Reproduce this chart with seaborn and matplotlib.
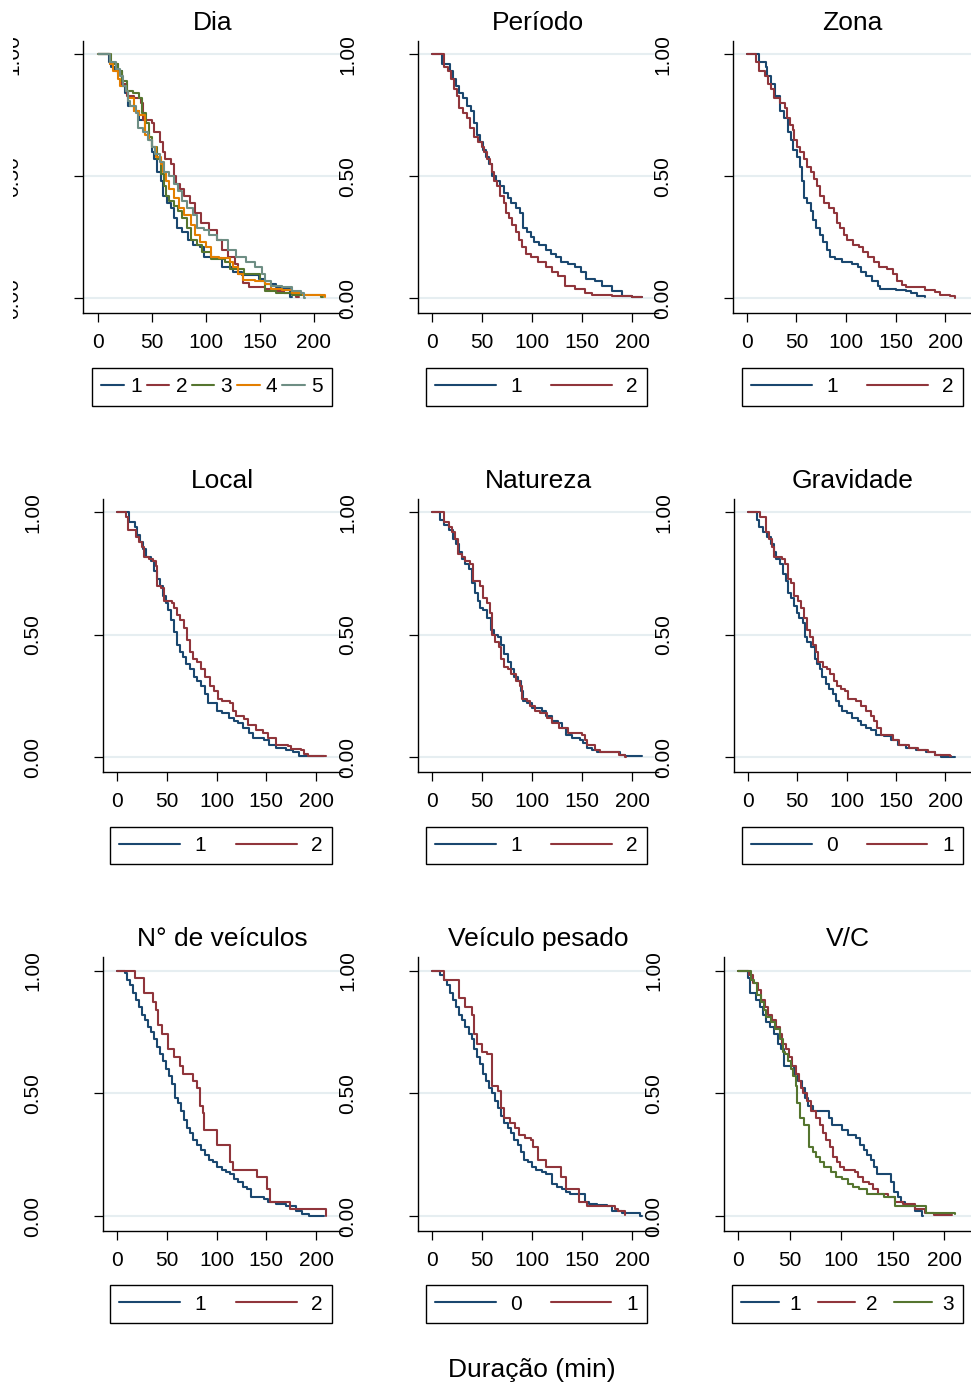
import pandas as pd
import seaborn as sns
import matplotlib.pyplot as plt
from matplotlib.lines import Line2D
from matplotlib.patches import Rectangle

# Kaplan-Meier estimates: (minutes, survival) after each step
dia1 = [(0, 1), (10, .97), (12, .95), (16, .93), (22, .87), (25, .84), (28, .79), (33, .77), (38, .73),
        (43, .68), (47, .65), (50, .60), (52, .57), (55, .52), (58, .48), (60, .42), (64, .39), (68, .37),
        (70, .33), (73, .29), (78, .27), (83, .24), (88, .22), (94, .21), (98, .17), (108, .165), (115, .13),
        (125, .11), (133, .095), (149, .08), (155, .06), (165, .045), (170, .04), (178, .005), (180, .005)]
dia2 = [(0, 1), (11, .96), (18, .92), (22, .88), (27, .83), (33, .82), (40, .80), (42, .73), (50, .72),
        (52, .68), (57, .64), (60, .60), (62, .57), (68, .55), (70, .50), (72, .47), (76, .45), (80, .42),
        (85, .39), (90, .35), (95, .31), (103, .28), (110, .24), (115, .20), (120, .17), (127, .14), (130, .10),
        (134, .065), (140, .045), (155, .04), (165, .03), (172, .02), (183, .005), (186, .005)]
dia3 = [(0, 1), (12, .96), (18, .93), (22, .89), (27, .85), (32, .84), (38, .82), (41, .76), (44, .72),
        (47, .66), (50, .62), (55, .57), (58, .51), (61, .46), (63, .42), (66, .40), (70, .38), (74, .36),
        (78, .33), (82, .29), (86, .24), (92, .22), (96, .19), (105, .16), (118, .15), (122, .12), (135, .10),
        (150, .07), (155, .03), (165, .02), (180, .015), (192, .015), (207, .005), (208, .005)]
dia4 = [(0, 1), (11, .96), (14, .93), (18, .90), (20, .87), (26, .85), (28, .82), (33, .77), (38, .75),
        (43, .67), (47, .65), (50, .62), (54, .58), (58, .55), (60, .52), (63, .48), (66, .45), (70, .41),
        (75, .37), (80, .34), (86, .30), (90, .26), (94, .23), (100, .21), (105, .17), (112, .165), (122, .15),
        (125, .13), (130, .10), (134, .075), (145, .07), (155, .06), (160, .04), (170, .035), (180, .02),
        (190, .015), (200, .015), (210, .005)]
dia5 = [(0, 1), (11, .97), (17, .94), (20, .91), (23, .87), (26, .85), (28, .81), (30, .79), (35, .76),
        (37, .70), (42, .68), (46, .65), (50, .62), (53, .59), (57, .56), (61, .52), (66, .50), (70, .47),
        (74, .44), (78, .40), (82, .37), (88, .34), (92, .29), (98, .28), (103, .26), (110, .24), (120, .20),
        (128, .17), (137, .15), (145, .13), (152, .10), (155, .07), (160, .05), (170, .045), (180, .03),
        (188, .02), (191, .003), (192, .003)]

per1 = [(0, 1), (10, .96), (18, .93), (21, .90), (24, .87), (27, .84), (31, .82), (35, .79), (39, .77),
        (42, .72), (45, .67), (48, .64), (51, .61), (54, .58), (57, .55), (60, .50), (64, .48), (68, .46),
        (72, .43), (76, .41), (79, .39), (84, .37), (88, .35), (91, .29), (95, .27), (99, .25), (102, .23),
        (107, .22), (114, .20), (119, .18), (124, .17), (129, .15), (136, .14), (143, .13), (149, .11),
        (154, .08), (163, .07), (170, .05), (180, .03), (190, .01), (200, .006), (210, .005)]
per2 = [(0, 1), (12, .95), (16, .93), (19, .90), (22, .86), (25, .83), (27, .78), (31, .76), (35, .74),
        (38, .70), (42, .66), (46, .64), (50, .62), (52, .60), (55, .57), (58, .55), (60, .52), (62, .48),
        (65, .46), (68, .42), (72, .39), (74, .35), (77, .33), (80, .30), (84, .27), (87, .24), (90, .21),
        (94, .18), (99, .17), (106, .15), (114, .13), (120, .11), (126, .09), (133, .05), (143, .04),
        (153, .02), (160, .015), (180, .01), (200, .005), (210, .005)]

zon1 = [(0, 1), (12, .97), (19, .95), (20, .91), (24, .88), (28, .83), (33, .77), (37, .74), (41, .68),
        (44, .65), (47, .61), (51, .58), (54, .54), (56, .48), (58, .41), (61, .39), (65, .36), (67, .32),
        (70, .29), (74, .26), (77, .23), (81, .20), (84, .17), (89, .16), (96, .15), (106, .14), (112, .13),
        (115, .11), (120, .09), (126, .07), (132, .05), (134, .04), (150, .035), (160, .03), (165, .02),
        (172, .01), (180, .005)]
zon2 = [(0, 1), (9, .97), (12, .93), (18, .91), (21, .88), (24, .86), (27, .82), (33, .80), (38, .78),
        (40, .74), (43, .71), (46, .69), (48, .65), (51, .62), (54, .60), (58, .57), (61, .54), (65, .52),
        (68, .49), (71, .46), (74, .42), (78, .39), (83, .37), (88, .35), (91, .31), (94, .29), (98, .26),
        (101, .24), (107, .22), (113, .21), (117, .19), (122, .17), (128, .15), (133, .13), (141, .12),
        (147, .10), (151, .07), (156, .055), (160, .045), (180, .035), (190, .025), (195, .012), (205, .01),
        (210, .003)]

loc1 = [(0, 1), (12, .96), (18, .94), (20, .91), (23, .88), (26, .85), (29, .82), (34, .80), (37, .76),
        (40, .73), (43, .70), (46, .66), (49, .63), (51, .60), (54, .56), (57, .51), (60, .46), (63, .43),
        (66, .41), (69, .38), (73, .36), (77, .33), (80, .31), (84, .29), (88, .26), (91, .22), (100, .19),
        (105, .18), (113, .16), (118, .15), (122, .14), (127, .12), (133, .10), (137, .08), (148, .07),
        (153, .05), (160, .04), (170, .03), (177, .02), (183, .005), (208, .005)]
loc2 = [(0, 1), (9, .98), (11, .93), (19, .90), (22, .88), (25, .86), (27, .82), (32, .81), (36, .80),
        (39, .78), (40, .70), (44, .69), (47, .64), (55, .63), (57, .61), (60, .58), (63, .56), (67, .53),
        (70, .48), (73, .43), (76, .40), (80, .39), (84, .36), (88, .33), (93, .29), (97, .27), (101, .24),
        (105, .23), (114, .22), (117, .19), (120, .17), (128, .155), (132, .13), (140, .11), (147, .10),
        (152, .08), (160, .05), (172, .045), (175, .035), (185, .03), (188, .015), (192, .005), (210, .005)]

nat1 = [(0, 1), (8, .97), (12, .95), (17, .93), (21, .89), (24, .87), (27, .84), (30, .81), (33, .79),
        (37, .77), (40, .71), (43, .67), (46, .64), (48, .61), (51, .60), (55, .57), (59, .52), (62, .50),
        (66, .49), (69, .46), (72, .42), (76, .39), (79, .36), (82, .33), (86, .31), (89, .27), (91, .23),
        (95, .22), (100, .20), (110, .19), (114, .17), (120, .15), (126, .14), (130, .12), (134, .09),
        (140, .08), (148, .07), (151, .06), (155, .04), (160, .03), (165, .02), (188, .01), (193, .005),
        (210, .005)]
nat2 = [(0, 1), (12, .96), (17, .94), (20, .92), (23, .89), (26, .83), (30, .82), (33, .80), (38, .79),
        (41, .72), (48, .70), (51, .65), (55, .63), (58, .59), (60, .50), (63, .47), (67, .45), (69, .40),
        (72, .37), (76, .36), (79, .34), (84, .31), (88, .29), (90, .24), (95, .23), (98, .21), (103, .19),
        (108, .18), (115, .16), (120, .14), (127, .12), (136, .10), (150, .09), (153, .07), (155, .05),
        (163, .03), (168, .02), (187, .01), (193, .003), (194, .003)]

gra0 = [(0, 1), (9, .97), (11, .94), (15, .92), (19, .90), (23, .87), (26, .84), (29, .81), (33, .79),
        (36, .75), (39, .72), (41, .67), (44, .65), (47, .62), (50, .59), (52, .57), (56, .55), (58, .49),
        (60, .47), (64, .45), (68, .40), (70, .38), (73, .36), (75, .33), (79, .30), (82, .28), (86, .26),
        (89, .23), (92, .21), (95, .19), (100, .18), (105, .16), (112, .15), (115, .13), (120, .12),
        (125, .11), (130, .09), (138, .085), (145, .07), (152, .05), (160, .04), (170, .03), (180, .02),
        (190, .01), (196, .003), (210, .003)]
gra1 = [(0, 1), (12, .98), (18, .92), (21, .89), (24, .86), (27, .82), (35, .81), (38, .79), (41, .73),
        (44, .71), (47, .66), (51, .64), (54, .61), (57, .57), (60, .52), (63, .49), (66, .46), (69, .43),
        (71, .39), (76, .37), (80, .36), (83, .34), (87, .31), (90, .29), (94, .28), (98, .27), (101, .24),
        (110, .23), (115, .21), (120, .19), (125, .17), (128, .15), (131, .12), (135, .09), (147, .07),
        (153, .05), (163, .04), (172, .03), (182, .02), (190, .01), (205, .005), (206, .005)]

nv1 = [(0, 1), (8, .99), (10, .96), (13, .94), (16, .91), (19, .88), (22, .85), (25, .82), (28, .80),
       (31, .77), (34, .75), (37, .72), (40, .69), (43, .66), (46, .63), (49, .60), (52, .57), (55, .54),
       (58, .48), (61, .46), (64, .43), (67, .39), (70, .36), (73, .34), (76, .31), (80, .29), (84, .27),
       (88, .25), (92, .23), (96, .22), (100, .20), (105, .19), (110, .18), (114, .17), (118, .15),
       (122, .14), (127, .12), (131, .11), (135, .08), (148, .07), (152, .06), (160, .05), (170, .04),
       (180, .02), (186, .01), (193, .003), (208, .003)]
nv2 = [(0, 1), (18, .97), (27, .91), (36, .87), (39, .84), (41, .78), (45, .74), (51, .68), (57, .65),
       (63, .61), (66, .58), (76, .55), (80, .52), (83, .45), (86, .42), (87, .35), (100, .29), (114, .22),
       (117, .19), (141, .16), (151, .11), (154, .06), (174, .03), (210, .03), (210, 0)]

vp0 = [(0, 1), (8, .98), (12, .96), (15, .94), (18, .91), (21, .88), (24, .85), (27, .82), (30, .80),
       (33, .77), (37, .74), (40, .72), (42, .68), (45, .65), (48, .62), (51, .58), (54, .55), (57, .52),
       (60, .50), (63, .47), (66, .44), (69, .41), (72, .38), (76, .36), (79, .34), (82, .31), (86, .29),
       (89, .26), (92, .23), (96, .22), (100, .20), (104, .19), (110, .18), (114, .17), (120, .13),
       (125, .12), (130, .11), (134, .10), (138, .09), (153, .06), (157, .05), (165, .045), (175, .04),
       (180, .02), (190, .015), (205, .012), (208, .003), (210, .003)]
vp1 = [(0, 1), (12, .96), (27, .89), (33, .85), (40, .82), (42, .74), (45, .70), (50, .67), (55, .66),
       (60, .53), (66, .51), (69, .44), (72, .40), (78, .38), (83, .36), (87, .33), (93, .32), (99, .31),
       (101, .28), (106, .23), (114, .20), (129, .16), (134, .11), (147, .06), (155, .04), (183, .03),
       (186, .02), (193, .005)]

vc1 = [(0, 1), (9, .97), (11, .91), (17, .88), (21, .85), (24, .82), (27, .79), (31, .77), (35, .74),
       (38, .70), (41, .68), (44, .61), (54, .58), (58, .55), (62, .52), (65, .48), (68, .45), (72, .43),
       (88, .40), (91, .37), (101, .35), (106, .33), (114, .32), (118, .29), (122, .27), (125, .25),
       (129, .23), (132, .20), (135, .17), (148, .14), (151, .10), (155, .08), (158, .06), (162, .04),
       (172, .02), (178, .003), (179, .003)]
vc2 = [(0, 1), (10, .98), (14, .95), (19, .92), (22, .88), (26, .85), (29, .82), (33, .80), (37, .77),
       (40, .74), (42, .70), (46, .68), (49, .65), (52, .61), (56, .58), (59, .55), (61, .52), (63, .50),
       (67, .47), (71, .43), (75, .40), (79, .37), (82, .34), (85, .31), (89, .28), (92, .24), (96, .22),
       (99, .20), (103, .19), (113, .18), (116, .16), (121, .14), (127, .13), (131, .11), (136, .09),
       (145, .08), (152, .06), (160, .05), (172, .03), (181, .015), (190, .005), (208, .005)]
vc3 = [(0, 1), (12, .96), (15, .95), (18, .90), (22, .87), (25, .84), (27, .81), (32, .79), (36, .76),
       (40, .72), (43, .67), (45, .66), (48, .63), (51, .60), (53, .57), (56, .53), (57, .46), (60, .40),
       (64, .37), (69, .28), (72, .26), (75, .24), (79, .22), (83, .20), (90, .18), (95, .16), (101, .15),
       (106, .13), (111, .12), (117, .11), (125, .09), (141, .08), (152, .04), (182, .015), (210, .01)]

titles = ["Dia", "Período", "Zona", "Local", "Natureza", "Gravidade",
          "N° de veículos", "Veículo pesado", "V/C"]
group_labels = [["1", "2", "3", "4", "5"], ["1", "2"], ["1", "2"], ["1", "2"], ["1", "2"],
                ["0", "1"], ["1", "2"], ["0", "1"], ["1", "2", "3"]]
curves = [[dia1, dia2, dia3, dia4, dia5], [per1, per2], [zon1, zon2], [loc1, loc2], [nat1, nat2],
          [gra0, gra1], [nv1, nv2], [vp0, vp1], [vc1, vc2, vc3]]

# stata s2color line colours
stata_colors = ["#1a476f", "#90353b", "#55752f", "#e37e00", "#6e8e84"]

# layout in pixels of the 971x1387 picture
W, H = 971, 1387
row_tb = [(41, 313), (499, 772), (957, 1231)]
col_lr = [[(83, 342), (418, 658), (733, 971)],
          [(103, 342), (418, 658), (734, 971)],
          [(103, 342), (418, 658), (724, 971)]]
leg_y = [(366, 408), (824, 867), (1282, 1326)]
leg_x = [[(92, 332), (426, 647), (742, 963)],
         [(110, 332), (426, 647), (742, 963)],
         [(110, 332), (426, 647), (732, 963)]]
key_len = {2: 2.9, 3: 1.8, 5: 1.1}
key_pad = {2: 0.7, 3: 0.5, 5: 0.3}

sns.set_theme(style="ticks")
plt.rcParams["font.family"] = ["Liberation Sans", "DejaVu Sans"]
plt.rcParams["text.color"] = "black"
plt.rcParams["axes.labelcolor"] = "black"

fig = plt.figure(figsize=(W / 100, H / 100), dpi=100)

for i in range(9):
    r, c = divmod(i, 3)
    top, bot = row_tb[r]
    left, right = col_lr[r][c]
    ax = fig.add_axes([left / W, 1 - bot / H, (right - left) / W, (bot - top) / H])

    labels = group_labels[i]
    df = pd.concat([pd.DataFrame(cv, columns=["t", "S"]).assign(grupo=lab)
                    for cv, lab in zip(curves[i], labels)], ignore_index=True)
    pal = stata_colors[:len(labels)]
    sns.lineplot(data=df, x="t", y="S", hue="grupo", hue_order=labels, palette=pal,
                 estimator=None, sort=False, drawstyle="steps-post", linewidth=1.5,
                 legend=False, ax=ax)

    ax.set_xlim(-14, 226)
    ax.set_ylim(-0.06, 1.055)
    ax.set_xticks([0, 50, 100, 150, 200])
    ax.set_yticks([0, 0.5, 1], labels=["0.00", "0.50", "1.00"])
    ax.grid(axis="y", color="#e6eef1", linewidth=1.5)
    ax.set_axisbelow(True)
    for side in ["top", "right"]:
        ax.spines[side].set_visible(False)
    for side in ["left", "bottom"]:
        ax.spines[side].set_color("black")
        ax.spines[side].set_linewidth(1.0)
    ax.tick_params(axis="x", length=6.5, width=0.9, pad=8, labelsize=15, colors="black")
    ax.tick_params(axis="y", length=6.5, width=0.9, pad=37, labelsize=15, colors="black")
    for lab in ax.get_yticklabels():
        lab.set_rotation(90)
        lab.set_va("center")
    ax.set_xlabel("")
    ax.set_ylabel("")
    ax.set_title(titles[i], fontsize=19, pad=8, color="black")

    # legend box under each panel
    lx0, lx1 = leg_x[r][c]
    ly0, ly1 = leg_y[r]
    n = len(labels)
    handles = [Line2D([], [], color=col, linewidth=1.5) for col in pal]
    leg = ax.legend(handles, labels, loc="center", ncol=n, mode="expand",
                    bbox_to_anchor=(lx0 / W, 1 - ly1 / H, (lx1 - lx0) / W, (ly1 - ly0) / H),
                    bbox_transform=fig.transFigure, borderaxespad=0, fontsize=15,
                    handlelength=key_len[n], handletextpad=key_pad[n], columnspacing=0.4,
                    borderpad=0.45, frameon=True, fancybox=False, framealpha=1,
                    edgecolor="black", labelcolor="black")
    leg.get_frame().set_linewidth(1.0)

# the top-left y labels are cut at the left edge in the original
fig.add_artist(Rectangle((0, 1 - 330 / H), 13 / W, 300 / H, transform=fig.transFigure,
                         facecolor="white", edgecolor="none", zorder=10))

fig.text(532 / W, 1 - 1370 / H, "Duração (min)", ha="center", va="center", fontsize=19)

fig.savefig("out.png", dpi=100, facecolor="white")
